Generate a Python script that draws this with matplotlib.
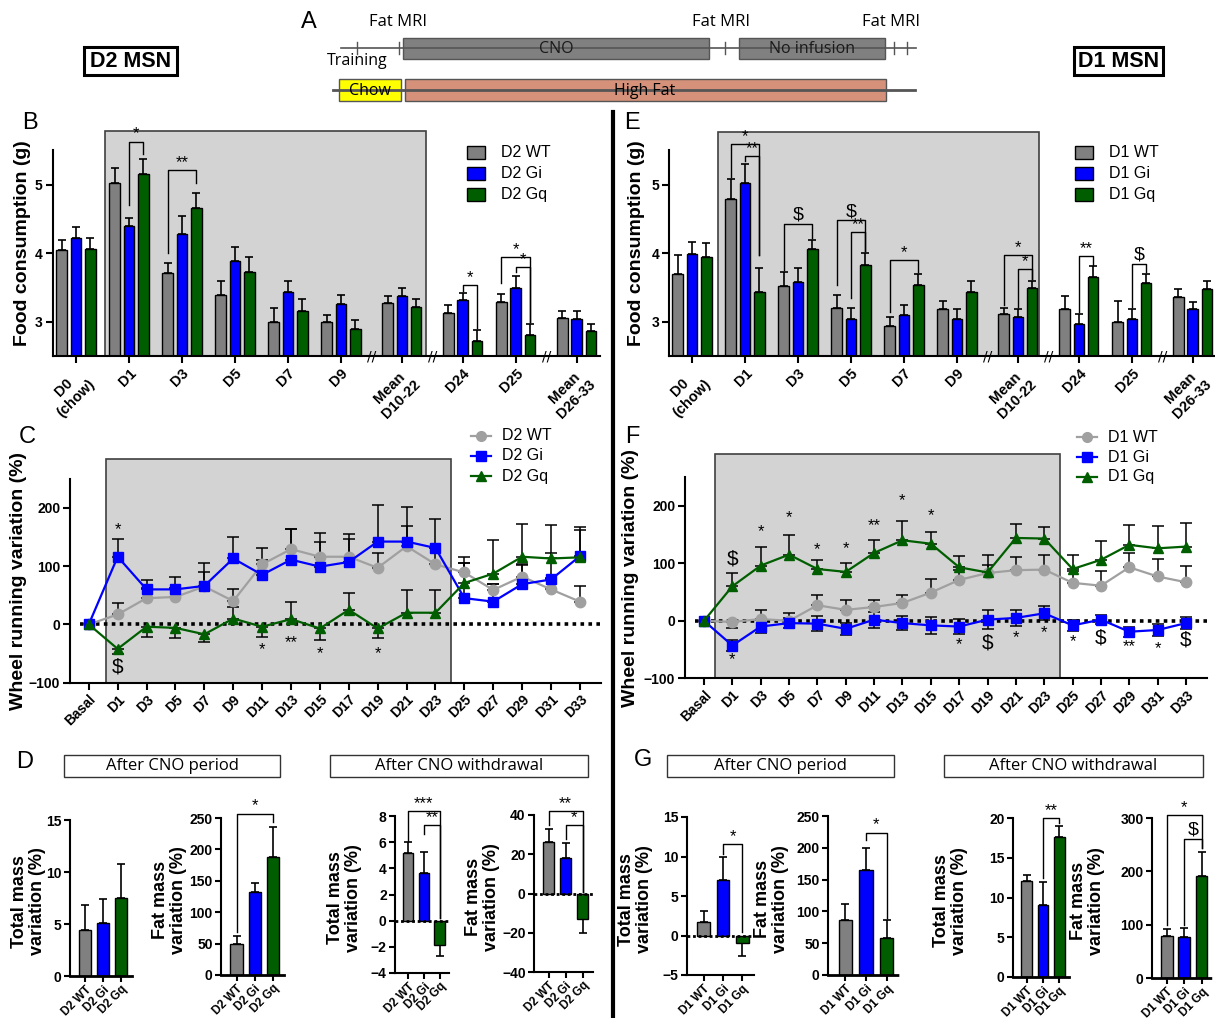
import numpy as np
import matplotlib.pyplot as plt
from matplotlib.patches import Rectangle
from matplotlib.lines import Line2D

plt.rcParams['font.family'] = ['Liberation Sans', 'DejaVu Sans']
plt.rcParams['axes.linewidth'] = 1.5

# ---------------- data ----------------
food_days = ['D0\n(chow)', 'D1', 'D3', 'D5', 'D7', 'D9', 'Mean\nD10-22', 'D24', 'D25', 'Mean\nD26-33']
food_breaks = [6, 7, 9]   # a '//' axis break sits before these groups

d2_food_wt = [4.05, 5.02, 3.71, 3.39, 2.99, 2.99, 3.28, 3.13, 3.29, 3.05]
d2_food_wt_err = [0.15, 0.23, 0.15, 0.20, 0.21, 0.11, 0.10, 0.11, 0.11, 0.10]
d2_food_gi = [4.22, 4.40, 4.28, 3.89, 3.44, 3.26, 3.38, 3.32, 3.49, 3.04]
d2_food_gi_err = [0.16, 0.11, 0.27, 0.20, 0.15, 0.13, 0.11, 0.10, 0.18, 0.12]
d2_food_gq = [4.06, 5.16, 4.66, 3.72, 3.15, 2.89, 3.22, 2.72, 2.80, 2.87]
d2_food_gq_err = [0.16, 0.22, 0.22, 0.22, 0.18, 0.14, 0.11, 0.16, 0.16, 0.09]

d1_food_wt = [3.70, 4.79, 3.52, 3.20, 2.94, 3.19, 3.11, 3.19, 3.00, 3.36]
d1_food_wt_err = [0.27, 0.29, 0.20, 0.19, 0.13, 0.11, 0.09, 0.18, 0.31, 0.12]
d1_food_gi = [3.99, 5.03, 3.58, 3.04, 3.10, 3.04, 3.07, 2.96, 3.04, 3.18]
d1_food_gi_err = [0.17, 0.27, 0.21, 0.16, 0.15, 0.14, 0.12, 0.15, 0.15, 0.11]
d1_food_gq = [3.95, 3.44, 4.06, 3.83, 3.53, 3.44, 3.49, 3.66, 3.56, 3.48]
d1_food_gq_err = [0.20, 0.35, 0.14, 0.18, 0.17, 0.15, 0.10, 0.15, 0.14, 0.11]

# significance brackets: (group, bar a, bar b, leg a bottom, leg b bottom, top, label)
d2_food_sig = [(1, 1, 2, 4.70, 5.45, 5.63, '*'), (2, 0, 2, 4.00, 5.03, 5.21, '**'),
               (7, 1, 2, 3.45, 2.91, 3.54, '*'), (8, 0, 2, 3.57, 2.99, 3.95, '*'),
               (8, 1, 2, 3.73, 2.99, 3.80, '*')]
d1_food_sig = [(1, 0, 2, 5.12, 3.97, 5.60, '*'), (1, 1, 2, 5.34, 3.97, 5.42, '**'),
               (2, 0, 2, 3.76, 4.22, 4.43, '$'), (3, 0, 2, 3.54, 4.03, 4.48, '$'),
               (3, 1, 2, 3.35, 4.03, 4.31, '**'), (4, 0, 2, 3.14, 3.72, 3.90, '*'),
               (6, 0, 2, 3.24, 3.62, 3.97, '*'), (6, 1, 2, 3.22, 3.62, 3.77, '*'),
               (7, 1, 2, 3.14, 3.83, 3.96, '**'), (8, 1, 2, 3.22, 3.72, 3.85, '$')]

wheel_days = ['Basal', 'D1', 'D3', 'D5', 'D7', 'D9', 'D11', 'D13', 'D15', 'D17',
              'D19', 'D21', 'D23', 'D25', 'D27', 'D29', 'D31', 'D33']

d2_wheel_wt = [0, 17, 45, 47, 65, 40, 103, 129, 116, 116, 97, 134, 103, 89, 59, 82, 60, 39]
d2_wheel_wt_err = [0, 20, 17, 15, 25, 20, 28, 34, 40, 39, 26, 35, 30, 26, 11, 21, 20, 27]
d2_wheel_gi = [0, 116, 60, 60, 66, 113, 85, 111, 99, 107, 142, 142, 131, 45, 39, 69, 77, 117]
d2_wheel_gi_err = [0, 31, 16, 22, 39, 37, 26, 52, 42, 40, 63, 60, 50, 60, 31, 33, 45, 50]
d2_wheel_gq = [0, -42, -4, -6, -17, 10, -4, 9, -7, 25, -7, 20, 20, 71, 87, 116, 113, 115]
d2_wheel_gq_err = [0, 8, 17, 18, 13, 20, 18, 30, 20, 28, 17, 39, 39, 34, 58, 56, 57, 47]
d2_wheel_notes = [(1, 163, '*'), (1, -73, '$'), (6, -44, '*'), (7, -31, '**'), (8, -50, '*'), (10, -50, '*')]

d1_wheel_wt = [0, -2, 3, 0, 27, 19, 24, 31, 49, 71, 83, 88, 89, 66, 61, 93, 77, 67]
d1_wheel_wt_err = [0, 11, 16, 13, 17, 18, 13, 14, 23, 18, 14, 23, 25, 21, 26, 25, 31, 29]
d1_wheel_gi = [0, -43, -10, -4, -5, -14, 2, -4, -8, -10, 2, 5, 13, -8, 2, -19, -16, -4]
d1_wheel_gi_err = [0, 9, 12, 8, 13, 10, 14, 12, 15, 13, 16, 14, 12, 10, 8, 9, 10, 10]
d1_wheel_gq = [0, 60, 96, 115, 90, 85, 118, 140, 134, 93, 84, 144, 143, 90, 106, 132, 126, 129]
d1_wheel_gq_err = [0, 23, 33, 34, 16, 16, 23, 34, 21, 20, 30, 24, 20, 24, 32, 35, 38, 41]
d1_wheel_notes = [(1, 107, '$'), (2, 155, '*'), (3, 180, '*'), (4, 123, '*'), (5, 125, '*'),
                  (6, 165, '**'), (7, 209, '*'), (8, 183, '*'), (1, -68, '*'), (9, -42, '*'),
                  (10, -38, '$'), (11, -30, '*'), (12, -20, '*'), (13, -36, '*'), (14, -30, '$'),
                  (15, -45, '**'), (16, -48, '*'), (17, -33, '$')]

d2_groups = ['D2 WT', 'D2 Gi', 'D2 Gq']
d1_groups = ['D1 WT', 'D1 Gi', 'D1 Gq']

d2_mass_cno, d2_mass_cno_err = [4.4, 5.1, 7.5], [2.4, 2.3, 3.3]
d2_fat_cno, d2_fat_cno_err = [49, 132, 188], [13, 15, 47]
d2_mass_wd, d2_mass_wd_err = [5.2, 3.66, -1.88], [0.83, 1.6, 0.82]
d2_fat_wd, d2_fat_wd_err = [26, 17.9, -12.8], [7, 8, 7.2]
d1_mass_cno, d1_mass_cno_err = [1.75, 7.0, -1.0], [1.4, 2.9, 1.6]
d1_fat_cno, d1_fat_cno_err = [87, 165, 58], [25, 35, 28]
d1_mass_wd, d1_mass_wd_err = [12.1, 9.1, 17.6], [0.7, 2.9, 1.35]
d1_fat_wd, d1_fat_wd_err = [79, 77, 192], [12, 17, 45]

# ---------------- styling ----------------
GREY, BLUE, GREEN, LGREY = '#808080', '#0000ff', '#005e00', '#a0a0a0'
BOX_FC, BOX_EC = '#d3d3d3', '#404040'
bar_colors = [GREY, BLUE, GREEN]

W, H = 1215, 1018
fig = plt.figure(figsize=(W / 100, H / 100), dpi=100)

# overlay in pixel units for scheme, letters, frames
ov = fig.add_axes([0, 0, 1, 1])
ov.set_xlim(0, W)
ov.set_ylim(H, 0)
ov.axis('off')


def px_axes(l, t, r, b):
    ax = fig.add_axes([l / W, 1 - b / H, (r - l) / W, (b - t) / H])
    ax.set_facecolor('none')
    ax.spines[['top', 'right']].set_visible(False)
    ax.tick_params(width=1.5, length=5, labelsize=10, pad=2)
    return ax


def bold_ticks(ax):
    plt.setp(ax.get_xticklabels() + ax.get_yticklabels(), fontweight='bold')


def ylabel_px(ax, rect, text, x_right, fs, yc=0.5, ls=1.0):
    ax.set_ylabel(text, fontsize=fs, fontweight='bold', linespacing=ls)
    ax.yaxis.set_label_coords((x_right - rect[0]) / (rect[2] - rect[0]), yc)


def away(vals, err):
    vals = np.asarray(vals, float)
    err = np.asarray(err, float)
    return [np.where(vals < 0, err, 0), np.where(vals >= 0, err, 0)]


def bracket(ax, x1, x2, y1, y2, top, label):
    ax.plot([x1, x1, x2, x2], [y1, top, top, y2], color='black', lw=1, clip_on=False, zorder=5)
    fs = 14 if label == '$' else 12
    ax.text((x1 + x2) / 2, top, label, ha='center', va='bottom', fontsize=fs, clip_on=False)


def food_panel(rect, series, errs, xlim, box, sig, ylab_x):
    ax = px_axes(*rect)
    n = len(food_days)
    pos = np.arange(n) + 0.15 * np.searchsorted(food_breaks, np.arange(n), side='right')
    off, wid = 0.27, 0.2
    ax.add_patch(Rectangle((box[0], 2.5), box[1] - box[0], box[2] - 2.5, fc=BOX_FC, ec=BOX_EC,
                           lw=1.2, zorder=0, clip_on=False))
    for k, (vals, err) in enumerate(zip(series, errs)):
        x = pos + (k - 1) * off
        ax.bar(x, vals, wid, color=bar_colors[k], edgecolor='black', lw=1, zorder=2)
        ax.errorbar(x, vals, yerr=away(vals, err), fmt='none', ecolor='black', elinewidth=1.2,
                    capsize=3, capthick=1.2, zorder=1.9)
    for g, a, b, ya, yb, top, lab in sig:
        bracket(ax, pos[g] + (a - 1) * off, pos[g] + (b - 1) * off, ya, yb, top, lab)
    for b in food_breaks:
        ax.text((pos[b - 1] + pos[b]) / 2, 2.5, '//', ha='center', va='center', fontsize=10,
                family='DejaVu Sans', clip_on=False, zorder=6)
    ax.set_xlim(xlim)
    ax.set_ylim(2.5, 5.5)
    ax.set_yticks([3, 4, 5])
    ax.set_xticks(pos, food_days, rotation=45, ha='right', va='top', rotation_mode='anchor',
                  multialignment='center')
    ax.tick_params(axis='x', labelsize=10.5)
    bold_ticks(ax)
    ylabel_px(ax, rect, 'Food consumption (g)', ylab_x, 14, 0.55)
    return ax


def wheel_panel(rect, xlim, series, errs, modes, box, notes, ylab_x):
    ax = px_axes(*rect)
    x = np.arange(len(wheel_days))
    ax.add_patch(Rectangle((box[0], -100), box[1] - box[0], box[2] + 100, fc=BOX_FC, ec=BOX_EC,
                           lw=1.2, zorder=0, clip_on=False))
    ax.plot([-0.3, xlim[1]], [0, 0], color='black', lw=2.6, ls=(0, (1, 1.2)), zorder=1)
    styles = [(LGREY, 'o', 7.5), (BLUE, 's', 7), (GREEN, '^', 7.5)]
    for (vals, err, mode), (c, m, ms) in zip(zip(series, errs, modes), styles):
        yerr = [np.asarray(err), np.asarray(err)] if mode == 'both' else away(vals, err)
        ax.errorbar(x, vals, yerr=yerr, fmt='none', ecolor='black', elinewidth=1.1,
                    capsize=4, capthick=1.1, zorder=2)
        ax.plot(x, vals, color=c, marker=m, ms=ms, lw=1.6, zorder=3)
    for i, y, lab in notes:
        ax.text(i, y, lab, ha='center', va='center', fontsize=15 if lab == '$' else 12)
    ax.set_xlim(xlim)
    ax.set_ylim(-100, 250)
    ax.set_yticks([-100, 0, 100, 200])
    ax.set_xticks(x, wheel_days, rotation=45, ha='right', va='top', rotation_mode='anchor')
    bold_ticks(ax)
    ylabel_px(ax, rect, 'Wheel running variation (%)', ylab_x, 14)
    return ax


def mass_panel(rect, vals, err, ylim, yticks, groups, ylab, ylab_x, sig):
    ax = px_axes(*rect)
    x = np.arange(3)
    ax.bar(x, vals, 0.66, color=bar_colors, edgecolor='black', lw=1, zorder=2)
    ax.errorbar(x, vals, yerr=away(vals, err), fmt='none', ecolor='black', elinewidth=1.2,
                capsize=3, capthick=1.2, zorder=1.9)
    if ylim[0] == 0:
        ax.spines['bottom'].set_linestyle((0, (1, 1)))
        ax.spines['bottom'].set_linewidth(2)
    else:
        ax.axhline(0, color='black', lw=2, ls=(0, (1, 1)), zorder=3)
    for a, b, ya, yb, top, lab in sig:
        bracket(ax, a, b, ya, yb, top, lab)
    ax.set_xlim(-0.85, 2.6)
    ax.set_ylim(ylim)
    ax.set_yticks(yticks)
    ax.set_xticks(x, groups, rotation=45, ha='right', va='top', rotation_mode='anchor')
    ax.tick_params(length=4)
    ax.tick_params(axis='x', labelsize=8.5, pad=1.5)
    ax.tick_params(axis='y', labelsize=10)
    bold_ticks(ax)
    ylabel_px(ax, rect, ylab, ylab_x, 13, 0.48, 1.1)
    return ax


# ---------------- panel A (scheme) ----------------
SC = '#555555'
ov.plot([341, 916], [48, 48], color=SC, lw=1.2)
for xt in [357, 399, 725, 894, 907]:
    ov.plot([xt, xt], [42, 54], color=SC, lw=1)
ov.add_patch(Rectangle((403, 38), 306, 21, fc='#808080', ec=SC, lw=1))
ov.add_patch(Rectangle((739, 38), 146, 21, fc='#808080', ec=SC, lw=1))
ov.text(556, 48.5, 'CNO', ha='center', va='center', fontsize=11.5, family='Open Sans', color='#1a1a1a')
ov.text(812, 48.5, 'No infusion', ha='center', va='center', fontsize=11.5, family='Open Sans', color='#1a1a1a')
ov.text(357, 61, 'Training', ha='center', va='center', fontsize=11.5, family='Open Sans')
for xm in [398, 721, 891]:
    ov.text(xm, 22, 'Fat MRI', ha='center', va='center', fontsize=12, family='Open Sans')
ov.plot([333, 915], [90, 90], color=SC, lw=2)
ov.add_patch(Rectangle((339, 79), 62, 22, fc='#ffff00', ec=SC, lw=1))
ov.add_patch(Rectangle((405, 79), 481, 22, fc='#d6917a', ec=SC, lw=1))
ov.text(370, 90.5, 'Chow', ha='center', va='center', fontsize=11.5, family='Open Sans')
ov.text(645, 90.5, 'High Fat', ha='center', va='center', fontsize=11.5, family='Open Sans')

for x0, x1, lab in [(84, 177, 'D2 MSN'), (1074, 1163, 'D1 MSN')]:
    ov.add_patch(Rectangle((x0, 47), x1 - x0, 28, fc='white', ec='black', lw=2.2))
    ov.text((x0 + x1) / 2, 61.5, lab, ha='center', va='center', fontsize=15.5, fontweight='bold')

for xl, yl, lab in [(309, 22, 'A'), (30, 123, 'B'), (27, 437, 'C'), (25, 762, 'D'),
                    (632, 123, 'E'), (632, 437, 'F'), (643, 760, 'G')]:
    ov.text(xl, yl, lab, ha='center', va='center', fontsize=17)

ov.plot([613, 613], [112, 1018], color='black', lw=3)

for x0, x1, lab in [(64, 280, 'After CNO period'), (330, 588, 'After CNO withdrawal'),
                    (667, 894, 'After CNO period'), (944, 1203, 'After CNO withdrawal')]:
    ov.add_patch(Rectangle((x0, 755), x1 - x0, 22, fc='white', ec='#333333', lw=1))
    ov.text((x0 + x1) / 2, 766.5, lab, ha='center', va='center', fontsize=12, family='Open Sans')

# ---------------- legends ----------------
for lx, ly, labs in [(467, 152, ['D2 WT', 'D2 Gi', 'D2 Gq']), (1075, 152, ['D1 WT', 'D1 Gi', 'D1 Gq'])]:
    for k, lab in enumerate(labs):
        yy = ly + k * 21
        ov.add_patch(Rectangle((lx, yy - 6.5), 18, 13, fc=bar_colors[k], ec='black', lw=1))
        ov.text(lx + 34, yy, lab, ha='left', va='center', fontsize=11.5)

for lx, ly, labs in [(471, 436, ['D2 WT', 'D2 Gi', 'D2 Gq']), (1077, 437, ['D1 WT', 'D1 Gi', 'D1 Gq'])]:
    for k, (lab, (c, m)) in enumerate(zip(labs, [(LGREY, 'o'), (BLUE, 's'), (GREEN, '^')])):
        yy = ly + k * 20
        ov.add_line(Line2D([lx, lx + 20], [yy, yy], color=c, lw=1.6))
        ov.plot([lx + 10], [yy], marker=m, color=c, ms=7)
        ov.text(lx + 31, yy, lab, ha='left', va='center', fontsize=11.5)

for xc, yc in [(276, 146), (891, 147), (266, 469), (881, 469)]:
    ov.text(xc, yc, 'CNO', ha='center', va='center', fontsize=12)

# ---------------- panels B & E ----------------
food_panel((52.5, 150.5, 600, 356), [d2_food_wt, d2_food_gi, d2_food_gq],
           [d2_food_wt_err, d2_food_gi_err, d2_food_gq_err], (-0.443, 9.89),
           (0.55, 6.6, 5.79), d2_food_sig, 31)
food_panel((669, 150.5, 1215, 356), [d1_food_wt, d1_food_gi, d1_food_gq],
           [d1_food_wt_err, d1_food_gi_err, d1_food_gq_err], (-0.434, 9.87),
           (0.5, 6.55, 5.77), d1_food_sig, 645)

# ---------------- panels C & F ----------------
wheel_panel((70, 478.6, 601, 682.7), (-0.65, 17.73), [d2_wheel_wt, d2_wheel_gi, d2_wheel_gq],
            [d2_wheel_wt_err, d2_wheel_gi_err, d2_wheel_gq_err], ['away', 'away', 'away'],
            (0.6, 12.54, 283), d2_wheel_notes, 27)
wheel_panel((685, 477, 1207, 678.3), (-0.67, 17.74), [d1_wheel_wt, d1_wheel_gi, d1_wheel_gq],
            [d1_wheel_wt_err, d1_wheel_gi_err, d1_wheel_gq_err], ['away', 'both', 'away'],
            (0.39, 12.55, 290), d1_wheel_notes, 639)

# ---------------- panels D & G ----------------
TM, FM = 'Total mass\nvariation (%)', 'Fat mass\nvariation (%)'
mass_panel((70, 820, 132, 976), d2_mass_cno, d2_mass_cno_err, (0, 15), [0, 5, 10, 15], d2_groups, TM, 46, [])
mass_panel((221, 818, 284, 975), d2_fat_cno, d2_fat_cno_err, (0, 250), [0, 50, 100, 150, 200, 250],
           d2_groups, FM, 187, [(0, 2, 69, 244, 257, '*')])
mass_panel((395, 816, 449, 973), d2_mass_wd, d2_mass_wd_err, (-4, 8), [-4, -2, 0, 2, 4, 6, 8],
           d2_groups, TM, 362, [(0, 2, 6.1, 0.2, 8.4, '***'), (1, 2, 6.6, 0.2, 7.3, '**')])
mass_panel((534, 815, 593, 972), d2_fat_wd, d2_fat_wd_err, (-40, 40), [-40, -20, 0, 20, 40],
           d2_groups, FM, 500, [(0, 2, 35, 1, 42.2, '**'), (1, 2, 28, 1, 35, '*')])
mass_panel((687, 817, 754, 975), d1_mass_cno, d1_mass_cno_err, (-5, 15), [-5, 0, 5, 10, 15],
           d1_groups, TM, 653, [(1, 2, 10.3, 0.5, 11.6, '*')])
mass_panel((828, 816, 899, 975), d1_fat_cno, d1_fat_cno_err, (0, 250), [0, 50, 100, 150, 200, 250],
           d1_groups, FM, 789, [(1, 2, 212, 89, 224, '*')])
mass_panel((1013, 818, 1069, 977), d1_mass_wd, d1_mass_wd_err, (0, 20), [0, 5, 10, 15, 20],
           d1_groups, TM, 968, [(1, 2, 12.5, 19.4, 20, '**')])
mass_panel((1152, 818, 1212, 978), d1_fat_wd, d1_fat_wd_err, (0, 300), [0, 100, 200, 300],
           d1_groups, FM, 1105, [(0, 2, 100, 244, 306, '*'), (1, 2, 100, 244, 261, '$')])

fig.savefig('out.png', dpi=100)
